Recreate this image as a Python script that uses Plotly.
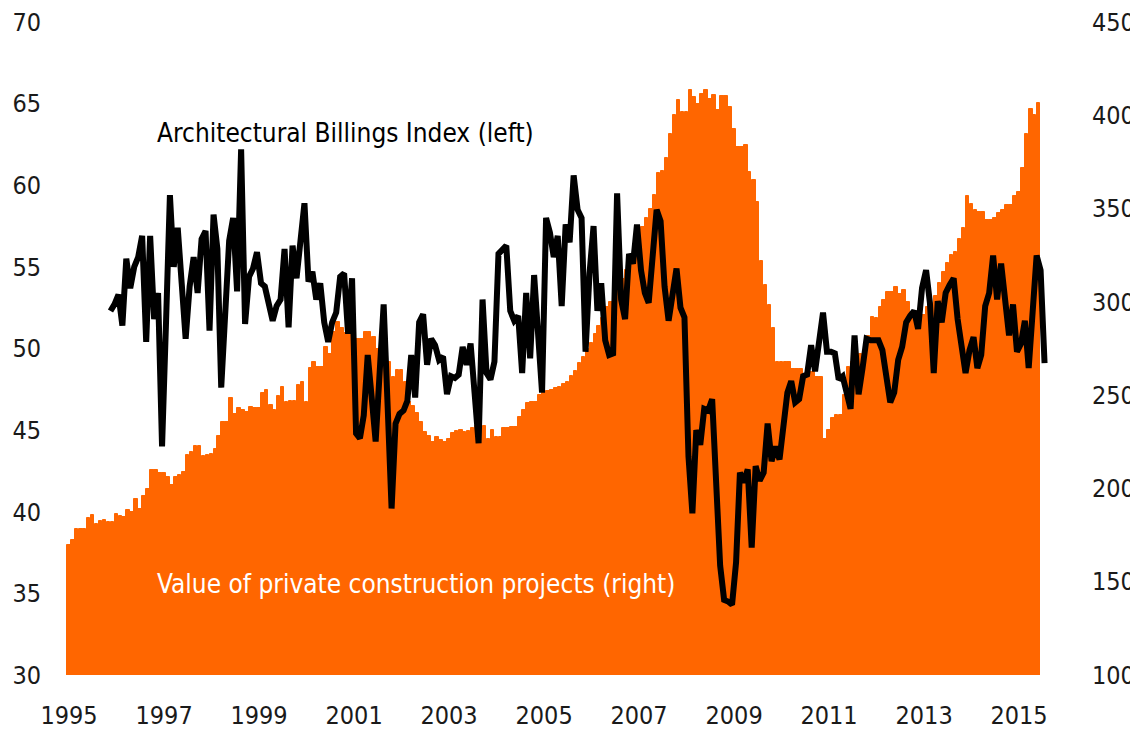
import pandas as pd
import plotly.graph_objects as go

# Value of private construction projects (right axis), monthly from Jan 1995
CONSTR_START = "1995-01-01"
construction = [
    169.5, 172.5, 178.5, 178.5, 178.5, 184.0, 186.0, 181.0, 182.5, 183.0, 182.0, 182.0,
    186.5, 185.0, 184.5, 188.5, 187.5, 194.5, 189.0, 196.0, 199.5, 210.0, 210.0, 208.5,
    208.5, 206.0, 202.0, 206.0, 207.0, 209.0, 218.0, 219.5, 222.5, 223.0, 217.5, 218.0,
    218.5, 221.0, 228.0, 235.5, 235.5, 248.5, 240.0, 243.0, 242.0, 241.0, 243.5, 243.0,
    243.0, 251.0, 253.0, 244.5, 242.0, 249.5, 254.5, 246.5, 247.0, 247.0, 255.5, 257.0,
    246.5, 264.5, 268.0, 265.0, 265.0, 276.0, 272.0, 284.0, 289.0, 286.0, 283.5, 283.5,
    277.0, 280.0, 280.0, 284.0, 284.0, 281.0, 275.0, 270.0, 269.0, 267.5, 259.5, 263.5,
    263.5, 257.0, 246.5, 244.0, 240.5, 235.5, 230.0, 228.0, 225.0, 227.5, 226.0, 225.0,
    226.5, 229.5, 231.0, 231.5, 230.0, 231.0, 232.5, 233.5, 233.5, 233.5, 226.5, 231.5,
    227.5, 227.5, 232.5, 232.5, 233.0, 233.0, 238.5, 242.0, 246.0, 246.5, 246.5, 250.0,
    251.5, 252.0, 253.0, 254.0, 254.5, 256.0, 257.0, 260.0, 263.0, 267.0, 270.5, 274.5,
    278.0, 283.0, 287.0, 291.5, 297.0, 300.0, 302.0, 309.0, 312.0, 317.0, 322.0, 328.0,
    333.0, 340.0, 345.0, 350.0, 357.5, 369.0, 370.0, 377.0, 390.0, 400.0, 408.0, 401.5,
    401.5, 413.5, 410.0, 406.0, 411.5, 413.5, 408.5, 411.0, 403.0, 410.5, 410.5, 404.5,
    392.5, 383.0, 383.0, 384.0, 369.5, 365.5, 353.5, 322.0, 309.0, 298.5, 286.0, 267.5,
    267.5, 267.5, 267.5, 264.0, 264.0, 264.0, 261.0, 262.5, 262.5, 259.5, 259.5, 226.5,
    231.5, 238.0, 239.5, 239.5, 250.0, 265.0, 267.5, 272.0, 272.0, 272.0, 281.5, 292.0,
    291.5, 297.0, 301.0, 305.5, 305.5, 308.0, 304.0, 306.5, 300.0, 293.0, 292.0, 292.0,
    293.0, 297.0, 297.0, 303.0, 310.0, 316.0, 321.0, 325.0, 326.5, 333.5, 339.5, 356.5,
    352.5, 349.5, 348.0, 348.0, 344.0, 344.0, 345.0, 347.5, 349.5, 352.0, 352.0, 356.5,
    359.0, 371.5, 390.0, 403.5, 400.0, 406.5,
]

# Architectural Billings Index (left axis), monthly from Nov 1995
ABI_START = "1995-11-01"
abi = [
    52.3, 52.7, 53.3, 51.4, 55.5, 53.7, 55.0, 55.6, 56.9, 50.4, 56.9, 51.8,
    53.4, 44.0, 51.7, 59.4, 55.0, 57.4, 54.0, 50.6, 53.8, 55.6, 53.4, 56.7,
    57.2, 51.1, 58.2, 56.1, 47.6, 52.1, 56.6, 58.0, 53.5, 62.2, 51.5, 54.4,
    54.9, 55.9, 54.0, 53.8, 52.8, 51.7, 52.6, 53.0, 56.1, 51.3, 56.3, 54.3,
    56.6, 58.9, 54.1, 54.7, 53.0, 54.0, 51.6, 50.4, 51.6, 52.2, 54.4, 54.6,
    50.9, 54.3, 44.8, 44.5, 45.9, 49.6, 47.0, 44.3, 48.5, 52.7, 46.5, 40.2,
    45.4, 46.0, 46.2, 46.8, 49.6, 47.0, 51.6, 52.1, 49.0, 50.6, 50.2, 49.3,
    49.5, 47.2, 48.3, 48.2, 48.4, 50.1, 49.0, 50.3, 47.3, 44.2, 53.0, 48.5,
    48.1, 49.2, 55.8, 56.0, 56.3, 52.3, 51.7, 52.0, 48.5, 53.4, 49.4, 54.5,
    51.0, 47.3, 58.0, 57.1, 55.6, 56.9, 52.6, 57.6, 56.5, 60.6, 58.5, 58.0,
    49.8, 54.6, 57.5, 52.3, 54.0, 50.5, 49.6, 49.7, 59.5, 53.0, 51.8, 55.8,
    55.2, 57.6, 54.8, 53.4, 52.8, 55.6, 58.5, 57.8, 53.8, 51.7, 53.3, 54.9,
    52.5, 51.9, 43.4, 39.9, 45.0, 44.1, 46.3, 46.2, 46.9, 40.9, 36.7, 34.6,
    34.5, 34.3, 36.9, 42.4, 41.8, 42.6, 37.8, 42.8, 41.9, 42.4, 45.4, 43.1,
    44.0, 43.2, 45.6, 47.3, 48.0, 46.7, 46.9, 48.3, 48.4, 50.2, 48.6, 50.3,
    52.2, 49.8, 49.8, 49.7, 48.1, 48.3, 47.3, 46.3, 50.8, 47.2, 48.8, 50.6,
    50.5, 50.5, 50.5, 49.9, 48.1, 46.7, 47.3, 49.3, 50.1, 51.6, 52.0, 52.3,
    51.2, 53.7, 54.8, 52.8, 48.5, 52.9, 51.6, 53.4, 53.9, 54.3, 51.8, 50.2,
    48.5, 49.9, 50.7, 48.8, 49.6, 52.6, 53.4, 55.7, 53.0, 55.2, 52.8, 50.8,
    52.7, 49.8, 50.3, 51.7, 48.8, 52.2, 55.7, 54.8, 49.1,
]

left_ticks = [30, 35, 40, 45, 50, 55, 60, 65, 70]
right_ticks = [100, 150, 200, 250, 300, 350, 400, 450]
year_ticks = ["1995", "1997", "1999", "2001", "2003", "2005", "2007", "2009", "2011", "2013", "2015"]

ORANGE = "#FF6600"
FONT = "Liberation Sans Narrow, Arial Narrow, DejaVu Sans Condensed, sans-serif"

constr_dates = pd.date_range(CONSTR_START, periods=len(construction), freq="MS")
abi_dates = pd.date_range(ABI_START, periods=len(abi), freq="MS")

fig = go.Figure()
fig.add_trace(go.Bar(
    x=constr_dates, y=construction, yaxis="y",
    xperiod="M1", xperiodalignment="start",
    marker=dict(color=ORANGE, line=dict(width=1, color=ORANGE)),
    showlegend=False, hoverinfo="skip",
))
fig.add_trace(go.Scatter(
    x=abi_dates, y=abi, yaxis="y2", mode="lines",
    xperiod="M1", xperiodalignment="middle",
    line=dict(color="black", width=6),
    showlegend=False,
))

# The page body has an 8px margin, so the figure is drawn 8px smaller/shifted.
W, H = 1130, 721
ML, MR, MT, MB = 52, 60, 14, 54
JAN95_PX = 61          # x position of Jan-1995 inside the figure
ppd = 47.5 / 365.25    # pixels per day
origin = pd.Timestamp("1995-01-01")
x0 = origin - pd.Timedelta(days=(JAN95_PX - ML) / ppd)
x1 = origin + pd.Timedelta(days=(W - MR - JAN95_PX) / ppd)
ann_x = origin + pd.Timedelta(days=86 / ppd)

axis_common = dict(showgrid=False, zeroline=False, showline=False, ticks="",
                   automargin=False, ticklabeloverflow="allow")

fig.update_layout(
    width=W, height=H,
    margin=dict(l=ML, r=MR, t=MT, b=MB, autoexpand=False),
    paper_bgcolor="white", plot_bgcolor="white",
    bargap=0,
    font=dict(family=FONT, size=25, color="#1a1a1a"),
    xaxis=dict(
        type="date", range=[x0, x1],
        tickvals=[pd.Timestamp(y + "-01-01") for y in year_ticks],
        ticktext=year_ticks, ticklabelstandoff=23, **axis_common,
    ),
    yaxis=dict(side="right", range=[100, 450], tickvals=right_ticks,
               ticklabelstandoff=13, **axis_common),
    yaxis2=dict(side="left", overlaying="y", range=[30, 70], tickvals=left_ticks,
                ticklabelstandoff=18, **axis_common),
    annotations=[
        dict(text="Architectural Billings Index (left)",
             x=ann_x, y=63.2, xref="x", yref="y2", xanchor="left", yanchor="middle",
             showarrow=False, font=dict(size=26, color="black", family=FONT)),
        dict(text="Value of private construction projects (right)",
             x=ann_x, y=35.6, xref="x", yref="y2", xanchor="left", yanchor="middle",
             showarrow=False, font=dict(size=26, color="white", family=FONT)),
    ],
)

fig.write_html("out.html")
